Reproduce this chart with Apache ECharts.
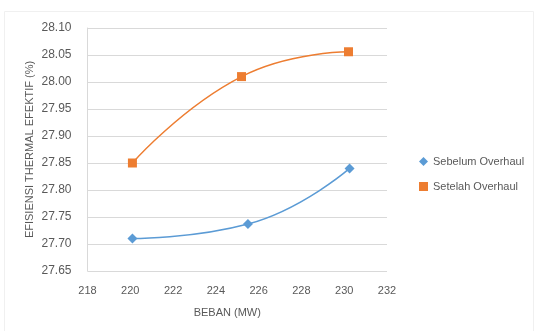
<!DOCTYPE html>
<html>
<head>
<meta charset="utf-8">
<script src="https://cdn.jsdelivr.net/npm/echarts@6/dist/echarts.min.js"></script>
<style>
  html, body { margin: 0; padding: 0; background: #fff; }
  #chart { width: 545px; height: 331px; }
</style>
</head>
<body>
<div id="chart"></div>
<script>
// Load (MW) vs effective thermal efficiency (%), before and after overhaul
const seriesNames = ['Sebelum Overhaul', 'Setelah Overhaul'];
const bebanSebelum = [220.1, 225.5, 230.25];
const efisiensiSebelum = [27.71, 27.737, 27.84];
const bebanSetelah = [220.1, 225.2, 230.2];
const efisiensiSetelah = [27.85, 28.01, 28.056];

const xName = 'BEBAN (MW)';
const yName = 'EFISIENSI THERMAL EFEKTIF (%)';

const pairs = (xs, ys) => xs.map((x, i) => [x, ys[i]]);

const labelColor = '#595959';
const font = 'Liberation Sans, Arial, sans-serif';

const chart = echarts.init(document.getElementById('chart'), null, { renderer: 'canvas' });
chart.setOption({
  animation: false,
  backgroundColor: '#fff',
  graphic: [{
    type: 'rect',
    shape: { x: 4.5, y: 11.5, width: 529, height: 330 },
    style: { fill: 'none', stroke: '#f0f0f0', lineWidth: 1 },
    silent: true,
    z: -1
  }],
  grid: { left: 87.5, right: 158, top: 28, bottom: 60 },
  legend: {
    orient: 'vertical',
    left: 414,
    top: 151,
    itemGap: 14,
    itemWidth: 9,
    itemHeight: 9,
    textStyle: { color: labelColor, fontSize: 11, fontFamily: font },
    data: [
      { name: seriesNames[0], icon: 'diamond' },
      { name: seriesNames[1], icon: 'rect' }
    ]
  },
  xAxis: {
    type: 'value',
    min: 218, max: 232, interval: 2,
    name: xName,
    nameLocation: 'middle',
    nameGap: 36,
    nameMoveOverlap: false,
    nameTextStyle: { color: labelColor, fontSize: 11, fontFamily: font, padding: [0, 20, 0, 0] },
    axisLine: { show: false },
    axisTick: { show: false },
    splitLine: { show: false },
    axisLabel: { color: labelColor, fontSize: 11, fontFamily: font, margin: 14 }
  },
  yAxis: {
    type: 'value',
    min: 27.65, max: 28.10, interval: 0.05,
    name: yName,
    nameLocation: 'middle',
    nameGap: 52,
    nameMoveOverlap: false,
    nameTextStyle: { color: labelColor, fontSize: 11, fontFamily: font },
    axisLine: { show: true, lineStyle: { color: '#d9d9d9' } },
    axisTick: { show: false },
    splitLine: { show: true, lineStyle: { color: '#d9d9d9', width: 1 } },
    axisLabel: {
      color: labelColor, fontSize: 12, fontFamily: font, margin: 16,
      formatter: v => v.toFixed(2)
    }
  },
  series: [
    {
      name: seriesNames[0],
      type: 'line',
      smooth: 0.5,
      symbol: 'diamond',
      symbolSize: 10,
      color: '#5B9BD5',
      lineStyle: { width: 1.5, color: '#5B9BD5' },
      itemStyle: { color: '#5B9BD5' },
      data: pairs(bebanSebelum, efisiensiSebelum)
    },
    {
      name: seriesNames[1],
      type: 'line',
      smooth: 0.5,
      symbol: 'rect',
      symbolSize: 9,
      color: '#ED7D31',
      lineStyle: { width: 1.5, color: '#ED7D31' },
      itemStyle: { color: '#ED7D31' },
      data: pairs(bebanSetelah, efisiensiSetelah)
    }
  ]
});
</script>
</body>
</html>
